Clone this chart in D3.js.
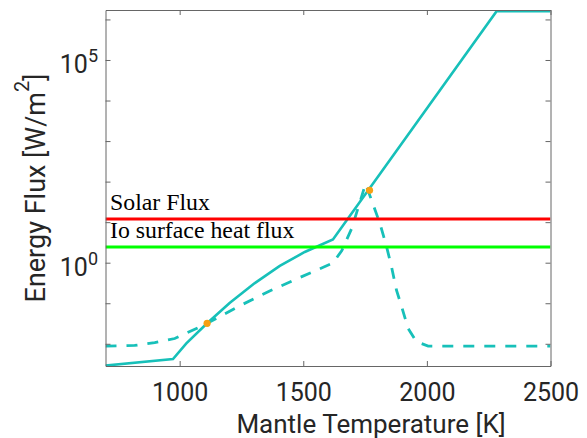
<!DOCTYPE html>
<html>
<head>
<meta charset="utf-8">
<script src="https://cdn.jsdelivr.net/npm/d3@7"></script>
<style>
  body { margin: 0; background: #fff; }
  svg { display: block; }
  .tick text { font-family: Roboto, sans-serif; fill: #262626; }
</style>
</head>
<body>
<svg></svg>
<script>
// chart size
var width = 587;
var height = 438;
var plotLeft = 105.5, plotRight = 550.5, plotTop = 10, plotBottom = 366;

// data (temperature in K, flux in W/m^2)
var solidT    = [700, 973, 1027, 1111, 1202, 1304, 1405, 1506, 1620, 2282, 2500];
var solidFlux = [0.0029, 0.0042, 0.0102, 0.032, 0.101, 0.314, 0.83, 1.84, 3.74, 1.6e6, 1.6e6];

var dashT    = [700, 818, 899, 980, 1081, 1111, 1243, 1364, 1486, 1620, 1656, 1696, 1752, 1776, 1810, 1837, 1857, 1877, 1898, 1924, 1958, 2005, 2500];
var dashFlux = [0.0088, 0.0091, 0.0107, 0.0135, 0.0259, 0.032, 0.0865, 0.200, 0.431, 0.98, 2.0, 7.0, 89, 35, 9.3, 2.48, 0.79, 0.21, 0.082, 0.024, 0.0112, 0.0088, 0.0088];

var dotT    = [1111, 1768];
var dotFlux = [0.032, 61];

var refNames = ['Solar Flux', 'Io surface heat flux'];
var refFlux  = [12.0, 2.45];
var refColors = ['#ff0000', '#00ff00'];

var xTicks = [1000, 1500, 2000, 2500];
var yTicks = [1e-2, 1e-1, 1e0, 1e1, 1e2, 1e3, 1e4, 1e5, 1e6];
var yLabelTicks = [1e0, 1e5]; // only these get a label

var teal = '#17c0b9';

var svg = d3.select('svg')
  .attr('width', width)
  .attr('height', height);

var scaleX = d3.scaleLinear()
  .domain([700, 2500])
  .range([plotLeft, plotRight]);

var scaleY = d3.scaleLog()
  .domain([Math.pow(10, -2.548), Math.pow(10, 6.233)])
  .range([plotBottom, plotTop]);

svg.append('clipPath')
  .attr('id', 'plotclip')
  .append('rect')
    .attr('x', plotLeft)
    .attr('y', plotTop)
    .attr('width', plotRight - plotLeft)
    .attr('height', plotBottom - plotTop);

var line = d3.line()
  .x(d => scaleX(d[0]))
  .y(d => scaleY(d[1]));

var plot = svg.append('g').attr('clip-path', 'url(#plotclip)');

// model curves
plot.append('path')
  .datum(d3.zip(dashT, dashFlux))
  .attr('d', line)
  .attr('fill', 'none')
  .attr('stroke', teal)
  .attr('stroke-width', 2.8)
  .attr('stroke-dasharray', '11,10');

plot.append('path')
  .datum(d3.zip(solidT, solidFlux))
  .attr('d', line)
  .attr('fill', 'none')
  .attr('stroke', teal)
  .attr('stroke-width', 2.6);

// reference fluxes
plot.selectAll('line.ref')
  .data(refFlux)
  .enter()
    .append('line')
      .attr('class', 'ref')
      .attr('x1', plotLeft)
      .attr('x2', plotRight)
      .attr('y1', d => scaleY(d))
      .attr('y2', d => scaleY(d))
      .attr('stroke', (d, i) => refColors[i])
      .attr('stroke-width', 3);

svg.selectAll('text.ref')
  .data(refNames)
  .enter()
    .append('text')
      .attr('class', 'ref')
      .attr('x', 110)
      .attr('y', (d, i) => scaleY(refFlux[i]) - 9)
      .style('font-family', '"Liberation Serif", "Times New Roman", serif')
      .style('font-size', '23.8px')
      .style('fill', '#000')
      .text(d => d);

// crossing points
plot.selectAll('circle')
  .data(d3.zip(dotT, dotFlux))
  .enter()
    .append('circle')
      .attr('cx', d => scaleX(d[0]))
      .attr('cy', d => scaleY(d[1]))
      .attr('r', 3.6)
      .attr('fill', '#f7a014');

// Axes: ticks point inward, box all round
var xAxis = d3.axisBottom(scaleX).tickValues(xTicks).tickSize(-5).tickSizeOuter(0)
  .tickPadding(17).tickFormat(d3.format('d'));
var xAxisTop = d3.axisTop(scaleX).tickValues(xTicks).tickSize(-5).tickSizeOuter(0).tickFormat('');
var yAxis = d3.axisLeft(scaleY).tickValues(yTicks).tickSize(-5).tickSizeOuter(0).tickFormat('');
var yAxisRight = d3.axisRight(scaleY).tickValues(yTicks).tickSize(-5).tickSizeOuter(0).tickFormat('');

var gx = svg.append('g')
  .attr('transform', 'translate(0,' + plotBottom + ')')
  .call(xAxis);
gx.selectAll('text').style('font-size', '25px').attr('dy', '0.71em');

svg.append('g').attr('transform', 'translate(0,' + plotTop + ')').call(xAxisTop);
svg.append('g').attr('transform', 'translate(' + plotLeft + ',0)').call(yAxis);
svg.append('g').attr('transform', 'translate(' + plotRight + ',0)').call(yAxisRight);

svg.selectAll('.domain').attr('stroke', '#666').attr('stroke-width', 1);
svg.selectAll('.tick line').attr('stroke', '#666');

// y tick labels written as 10^n
var yLab = svg.selectAll('text.ylab')
  .data(yLabelTicks)
  .enter()
    .append('text')
      .attr('class', 'ylab')
      .attr('x', 98)
      .attr('y', d => scaleY(d) + 13)
      .style('text-anchor', 'end')
      .style('font-family', 'Roboto, sans-serif')
      .style('font-size', '25px')
      .style('fill', '#262626');
yLab.append('tspan').text('10');
yLab.append('tspan')
  .attr('dy', -11)
  .style('font-size', '18px')
  .text(d => Math.round(Math.log10(d)));

// X label
svg.append('text')
  .attr('x', 371)
  .attr('y', 433)
  .style('text-anchor', 'middle')
  .style('font-family', 'Roboto, sans-serif')
  .style('font-size', '26px')
  .style('fill', '#262626')
  .text('Mantle Temperature [K]');

// Y label
var yTitle = svg.append('text')
  .attr('transform', 'rotate(-90)')
  .attr('x', -(plotTop + plotBottom) / 2)
  .attr('y', 45)
  .style('text-anchor', 'middle')
  .style('font-family', 'Roboto, sans-serif')
  .style('font-size', '27px')
  .style('fill', '#262626');
yTitle.append('tspan').text('Energy Flux [W/m');
yTitle.append('tspan').attr('dy', -16).style('font-size', '20px').text('2');
yTitle.append('tspan').attr('dy', 16).text(']');
</script>
</body>
</html>
